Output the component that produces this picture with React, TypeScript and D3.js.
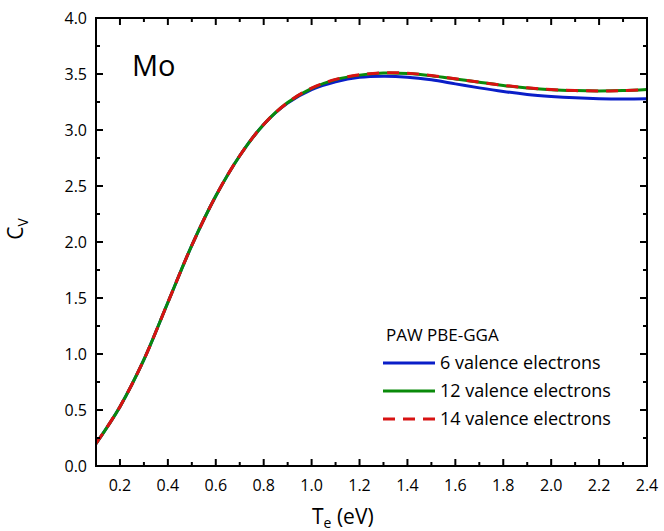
import React from "react";
import * as d3 from "d3";

const temps = [0.1, 0.2, 0.3, 0.4, 0.5, 0.6, 0.7, 0.8, 0.9, 1.0, 1.1, 1.2, 1.3, 1.4, 1.5, 1.6, 1.7, 1.8, 1.9, 2.0, 2.1, 2.2, 2.3, 2.4];
const cv6 = [0.2, 0.53, 0.95, 1.46, 1.97, 2.41, 2.77, 3.05, 3.24, 3.36, 3.43, 3.47, 3.48, 3.472, 3.448, 3.412, 3.376, 3.344, 3.318, 3.3, 3.287, 3.279, 3.276, 3.278];
const cv12 = [0.2, 0.53, 0.95, 1.46, 1.97, 2.41, 2.77, 3.05, 3.245, 3.372, 3.45, 3.49, 3.508, 3.504, 3.485, 3.456, 3.426, 3.398, 3.376, 3.36, 3.352, 3.349, 3.352, 3.362];
const cv14 = [0.2, 0.53, 0.95, 1.46, 1.97, 2.41, 2.77, 3.05, 3.245, 3.374, 3.452, 3.493, 3.511, 3.507, 3.487, 3.457, 3.427, 3.399, 3.377, 3.361, 3.352, 3.349, 3.351, 3.361];

const xMajor = [0.2, 0.4, 0.6, 0.8, 1.0, 1.2, 1.4, 1.6, 1.8, 2.0, 2.2, 2.4];
const xMinor = [0.3, 0.5, 0.7, 0.9, 1.1, 1.3, 1.5, 1.7, 1.9, 2.1, 2.3];
const yMajor = [0.0, 0.5, 1.0, 1.5, 2.0, 2.5, 3.0, 3.5, 4.0];
const yMinor = [0.25, 0.75, 1.25, 1.75, 2.25, 2.75, 3.25, 3.75];

const seriesNames = ["6 valence electrons", "12 valence electrons", "14 valence electrons"];
const seriesColors = ["#0a1ec8", "#0a8a0a", "#d81212"];
const legendTitle = "PAW PBE-GGA";

const FONT = "'Open Sans', 'DejaVu Sans', sans-serif";

export default function App() {
  const left = 96, right = 647, top = 18, bottom = 466;
  const x = d3.scaleLinear().domain([0.1, 2.4]).range([left, right]);
  const y = d3.scaleLinear().domain([0, 4]).range([bottom, top]);
  const line = (vals: number[]) =>
    d3.line<number>().x((_, i) => x(temps[i])).y((v) => y(v)).curve(d3.curveCatmullRom.alpha(0.5))(vals) || "";

  const series = [cv6, cv12, cv14];
  const legendY = [363, 391, 419];

  return (
    <svg width={664} height={531} style={{ position: "absolute", left: 0, top: 0, background: "#fff" }} fontFamily={FONT}>
      <rect x={0} y={0} width={664} height={531} fill="#fff" />
      <defs>
        <clipPath id="plot">
          <rect x={left} y={top} width={right - left} height={bottom - top} />
        </clipPath>
      </defs>
      <g clipPath="url(#plot)">
        {series.map((s, i) => (
          <path key={i} d={line(s)} fill="none" stroke={seriesColors[i]} strokeWidth={3}
            strokeDasharray={i === 2 ? "12,8" : undefined} />
        ))}
      </g>
      <rect x={left} y={top} width={right - left} height={bottom - top} fill="none" stroke="#000" strokeWidth={2} />
      {xMajor.map((t) => (
        <g key={"xM" + t}>
          <line x1={x(t)} x2={x(t)} y1={bottom} y2={bottom - 7} stroke="#000" strokeWidth={2} />
          <line x1={x(t)} x2={x(t)} y1={top} y2={top + 7} stroke="#000" strokeWidth={2} />
          <text x={x(t)} y={491} textAnchor="middle" fontSize={16} fill="#000">{t.toFixed(1)}</text>
        </g>
      ))}
      {xMinor.map((t) => (
        <g key={"xm" + t}>
          <line x1={x(t)} x2={x(t)} y1={bottom} y2={bottom - 4} stroke="#000" strokeWidth={2} />
          <line x1={x(t)} x2={x(t)} y1={top} y2={top + 4} stroke="#000" strokeWidth={2} />
        </g>
      ))}
      {yMajor.map((v) => (
        <g key={"yM" + v}>
          <line x1={left} x2={left + 7} y1={y(v)} y2={y(v)} stroke="#000" strokeWidth={2} />
          <line x1={right} x2={right - 7} y1={y(v)} y2={y(v)} stroke="#000" strokeWidth={2} />
          <text x={87} y={y(v) + 6} textAnchor="end" fontSize={16} fill="#000">{v.toFixed(1)}</text>
        </g>
      ))}
      {yMinor.map((v) => (
        <g key={"ym" + v}>
          <line x1={left} x2={left + 4} y1={y(v)} y2={y(v)} stroke="#000" strokeWidth={2} />
          <line x1={right} x2={right - 4} y1={y(v)} y2={y(v)} stroke="#000" strokeWidth={2} />
        </g>
      ))}
      <text x={132} y={76} fontSize={29} fill="#000">Mo</text>
      <text transform="translate(23,229) rotate(-90)" textAnchor="middle" fontSize={21} fill="#000">
        C<tspan fontSize={14} dy={5}>V</tspan>
      </text>
      <text x={312} y={524} fontSize={21} fill="#000">
        T<tspan fontSize={14} dy={4}>e</tspan><tspan dy={-4}> (eV)</tspan>
      </text>
      <text x={386} y={341} fontSize={17} fill="#000">{legendTitle}</text>
      {seriesNames.map((n, i) => (
        <g key={n}>
          <line x1={383} x2={435} y1={legendY[i]} y2={legendY[i]} stroke={seriesColors[i]} strokeWidth={3}
            strokeDasharray={i === 2 ? "12,8" : undefined} />
          <text x={440} y={legendY[i] + 6} fontSize={18} fill="#000">{n}</text>
        </g>
      ))}
    </svg>
  );
}
